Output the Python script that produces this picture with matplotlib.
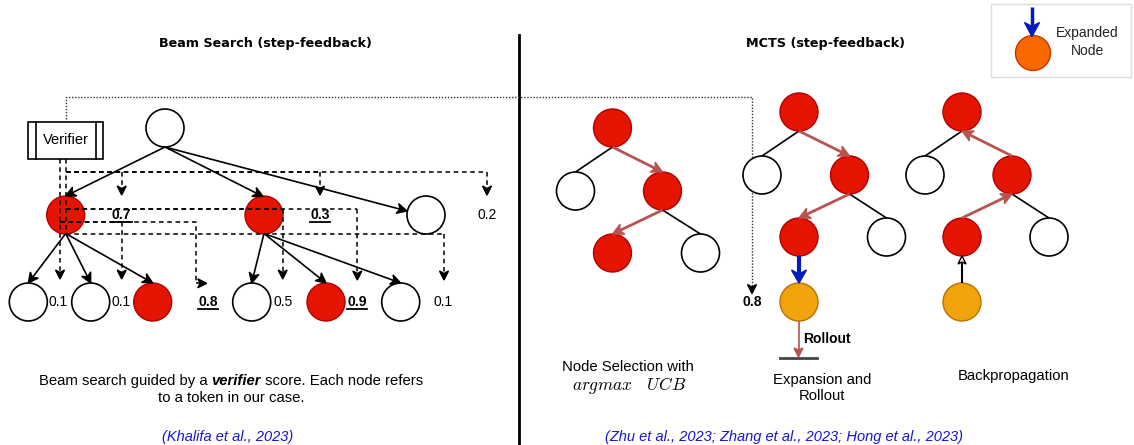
import numpy as np
import matplotlib
matplotlib.use("Agg")
import matplotlib.pyplot as plt
from matplotlib.patches import Circle, Rectangle, Polygon

plt.rcParams["font.family"] = ["Liberation Sans", "DejaVu Sans"]
plt.rcParams["mathtext.fontset"] = "cm"

# ---- data -------------------------------------------------------------
titles = ["Beam Search (step-feedback)", "MCTS (step-feedback)"]
level1_scores = ["0.7", "0.3", "0.2"]
level1_best = [True, True, False]
level2_scores = ["0.1", "0.1", "0.8", "0.5", "0.9", "0.1"]
level2_best = [False, False, True, False, True, False]
rollout_score = "0.8"
mcts_captions = ["Node Selection with", "Expansion and\nRollout", "Backpropagation"]
beam_caption = ["Beam search guided by a ", "verifier", " score. Each node refers"]
beam_caption2 = "to a token in our case."
cite_left = "(Khalifa et al., 2023)"
cite_right = "(Zhu et al., 2023; Zhang et al., 2023; Hong et al., 2023)"

RED, RED_EDGE = "#e51400", "#b20000"
ORANGE, ORANGE_EDGE = "#f0a30a", "#bd7000"
LEG_ORANGE, LEG_ORANGE_EDGE = "#fa6800", "#c73500"
BLUE = "#001dbc"
ARROW_RED = "#b85450"
CITE = "#1515d6"
CAP = 10.7

fig = plt.figure(figsize=(11.34, 4.45), dpi=100)
ax = fig.add_axes([0, 0, 1, 1])
ax.set_xlim(0, 1134)
ax.set_ylim(445, 0)
ax.axis("off")
R = 19


def node(x, y, fc="white", ec="black", r=R, lw=1.2):
    ax.add_patch(Circle((x, y), r, fc=fc, ec=ec, lw=lw, zorder=3))


def arrow(p0, p1, color="black", lw=1.2, L=10, W=5, notch=3, ls="-",
          fill=True, z=4):
    p0 = np.asarray(p0, float); p1 = np.asarray(p1, float)
    d = (p1 - p0) / np.hypot(*(p1 - p0))
    n = np.array([-d[1], d[0]])
    back = p1 - d * L
    nb = p1 - d * (L - notch)
    ax.plot([p0[0], nb[0]], [p0[1], nb[1]], color=color, lw=lw, ls=ls,
            solid_capstyle="butt", zorder=z)
    ax.add_patch(Polygon([p1, back + n * W, nb, back - n * W], closed=True,
                         fc=color if fill else "white", ec=color, lw=1,
                         zorder=z + 1))


DASH = (0, (3, 2.4))


def dpath(pts):
    xs = [p[0] for p in pts]; ys = [p[1] for p in pts]
    ax.plot(xs[:-1], ys[:-1], color="black", lw=1.1, ls=DASH, zorder=6)
    arrow(pts[-2], pts[-1], lw=1.1, L=9, W=4.5, notch=2.5, ls=DASH, z=6)


def score(x, y, s, best):
    ax.text(x, y, s, ha="center", va="center", fontsize=10,
            fontweight="bold" if best else "normal", zorder=7)
    if best:
        w = 20.5
        ax.plot([x - w / 2, x + w / 2], [y + 6.5, y + 6.5], color="black",
                lw=1.3, zorder=7)


def paint(p, c):
    if c == RED:
        node(*p, fc=RED, ec=RED_EDGE, lw=1)
    else:
        node(*p)


# ---- titles & divider -------------------------------------------------
ax.text(265, 43, titles[0], ha="center", va="center", fontsize=9.2,
        fontweight="bold", family="DejaVu Sans")
ax.text(826, 43, titles[1], ha="center", va="center", fontsize=9.2,
        fontweight="bold", family="DejaVu Sans")
ax.plot([519, 519], [35, 445], color="black", lw=2)

# ---- beam search tree -------------------------------------------------
root = (165, 128)
l1 = [(65.7, 215, RED), (264, 215, RED), (426, 215, "white")]
l1_lab = [121.7, 320, 487]
l2 = [(28.3, 302, "white"), (90.7, 302, "white"), (152.7, 302, RED),
      (251.7, 302, "white"), (326, 302, RED), (400.7, 302, "white")]
l2_lab = [58, 120.7, 208, 282.7, 357, 443]

for (x, y, c) in l1 + l2:
    paint((x, y), c)
node(*root)

rb = (root[0], root[1] + R)
arrow(rb, (65.7, 196))
arrow(rb, (263, 196.5))
arrow(rb, (407, 211))
for px, kids in [(65.7, l2[:3]), (264, l2[3:])]:
    for (x, y, c) in kids:
        arrow((px, 233.5), (x, y - R))

for x, s, b in zip(l1_lab, level1_scores, level1_best):
    score(x, 215, s, b)
for x, s, b in zip(l2_lab, level2_scores, level2_best):
    score(x, 302, s, b)

# verifier
ax.add_patch(Rectangle((28.3, 121.7), 75, 37.3, fc="white", ec="black",
                       lw=1.2, zorder=8))
for xx in (35.7, 95.7):
    ax.plot([xx, xx], [121.7, 159], color="black", lw=1.2, zorder=9)
ax.text(66, 140, "Verifier", ha="center", va="center", fontsize=10.5,
        zorder=9)

# verifier -> score edges (orthogonal dashed)
vA, vB = 60, 65.7
ax.plot([vB, vB], [159, 234], color="black", lw=1.1, ls=DASH, zorder=6)
for x in l1_lab:
    dpath([(vB, 171.7), (x, 171.7), (x, 195)])
dpath([(vA, 159), (vA, 279)])
dpath([(vA, 221.7), (121.7, 221.7), (121.7, 279)])
dpath([(vA, 221.7), (196, 221.7), (196, 283.3), (206.7, 283.3)])
dpath([(vB, 209), (282.7, 209), (282.7, 279)])
dpath([(vB, 209), (357.3, 209), (357.3, 280)])
dpath([(vB, 234), (444, 234), (444, 280)])

# dotted link to MCTS
ax.plot([65.7, 65.7, 752, 752], [121.7, 97, 97, 287], color="#333333",
        lw=1, ls=(0, (1, 1.2)), zorder=2)
ax.add_patch(Polygon([(752, 293.5), (747.5, 284.5), (752, 287), (756.5, 284.5)],
                     fc="black", ec="black", lw=1, zorder=5))
ax.text(752, 302, rollout_score, ha="center", va="center", fontsize=10,
        fontweight="bold")


# ---- MCTS trees -------------------------------------------------------
def tree(cx, top, dx_l, dx_r, dx_rr):
    r0 = (cx, top)
    lc = (cx - dx_l, top + 63)
    rc = (cx + dx_r, top + 63)
    g1 = (cx, top + 125)
    g2 = (rc[0] + dx_rr, top + 125)
    return r0, lc, rc, g1, g2


def skeleton(r0, lc, rc, g2):
    ax.plot([r0[0], lc[0]], [r0[1] + R, lc[1] - R], color="black", lw=1.2, zorder=2)
    ax.plot([rc[0], g2[0]], [rc[1] + R, g2[1] - R], color="black", lw=1.2, zorder=2)


def colour_nodes(r0, lc, rc, g1, g2):
    for p, c in [(r0, RED), (lc, "white"), (rc, RED), (g1, RED), (g2, "white")]:
        paint(p, c)


# tree 1: selection
r0, lc, rc, g1, g2 = tree(612.5, 128, 37, 50, 38)
skeleton(r0, lc, rc, g2)
arrow((r0[0], r0[1] + R), (rc[0], rc[1] - R), color=ARROW_RED, lw=2, L=11, W=5.5)
arrow((rc[0], rc[1] + R), (g1[0], g1[1] - R), color=ARROW_RED, lw=2, L=11, W=5.5)
colour_nodes(r0, lc, rc, g1, g2)

# tree 2: expansion + rollout
r0, lc, rc, g1, g2 = tree(799, 112, 37, 50.5, 37)
skeleton(r0, lc, rc, g2)
arrow((r0[0], r0[1] + R), (rc[0], rc[1] - R), color=ARROW_RED, lw=2, L=11, W=5.5)
arrow((rc[0], rc[1] + R), (g1[0], g1[1] - R), color=ARROW_RED, lw=2, L=11, W=5.5)
colour_nodes(r0, lc, rc, g1, g2)
node(799, 302, fc=ORANGE, ec=ORANGE_EDGE, lw=1)
arrow((799, g1[1] + R), (799, 283), color=BLUE, lw=3, L=13, W=7.5, notch=4)
arrow((798.5, 321), (798.5, 357), color=ARROW_RED, lw=1.2, L=9, W=4.5, notch=2)
ax.plot([780, 817], [358, 358], color="#444444", lw=2)
ax.text(803, 339, "Rollout", ha="left", va="center", fontsize=10,
        fontweight="bold")

# tree 3: backpropagation
r0, lc, rc, g1, g2 = tree(962, 112, 37, 50, 37)
skeleton(r0, lc, rc, g2)
arrow((g1[0], g1[1] - R), (rc[0], rc[1] + R), color=ARROW_RED, lw=2, L=11, W=5.5)
arrow((rc[0], rc[1] - R), (r0[0], r0[1] + R), color=ARROW_RED, lw=2, L=11, W=5.5)
colour_nodes(r0, lc, rc, g1, g2)
node(962, 302, fc=ORANGE, ec=ORANGE_EDGE, lw=1)
arrow((962, 283), (962, 256), color="black", lw=1.5, L=8, W=4, notch=2,
      fill=False)

# captions
ax.text(628, 367, mcts_captions[0], ha="center", va="center", fontsize=CAP)
ax.text(629, 386, r"$argmax\quad UCB$", ha="center", va="center", fontsize=12.5)
ax.text(822, 388, mcts_captions[1], ha="center", va="center", fontsize=CAP,
        linespacing=1.2)
ax.text(1014, 376, mcts_captions[2], ha="center", va="center", fontsize=CAP)

# beam caption with bold-italic word, centred as a whole
fig.canvas.draw()
rend = fig.canvas.get_renderer()
styles = [dict(), dict(fontweight="bold", fontstyle="italic"), dict()]
parts = [ax.text(0, 381, s, ha="left", va="center", fontsize=CAP, **st)
         for s, st in zip(beam_caption, styles)]
widths = [p.get_window_extent(rend).width for p in parts]
x = 231 - sum(widths) / 2
for p, w in zip(parts, widths):
    p.set_x(x)
    x += w
ax.text(231, 398, beam_caption2, ha="center", va="center", fontsize=CAP)

ax.text(228, 437, cite_left, ha="center", va="center", fontsize=10.5,
        fontstyle="italic", color=CITE)
ax.text(784, 437, cite_right, ha="center", va="center", fontsize=10.5,
        fontstyle="italic", color=CITE)

# legend box
ax.add_patch(Rectangle((991, 4), 140, 73, fc="white", ec="#dddddd", lw=1))
ax.add_patch(Circle((1033, 53), 17.5, fc=LEG_ORANGE, ec=LEG_ORANGE_EDGE,
                    lw=1, zorder=3))
arrow((1032, 7), (1032, 36.5), color=BLUE, lw=2.5, L=14, W=7.5, notch=4)
ax.text(1087, 42, "Expanded\nNode", ha="center", va="center", fontsize=10,
        color="#222222", linespacing=1.3)

fig.savefig("out.png", dpi=100)
